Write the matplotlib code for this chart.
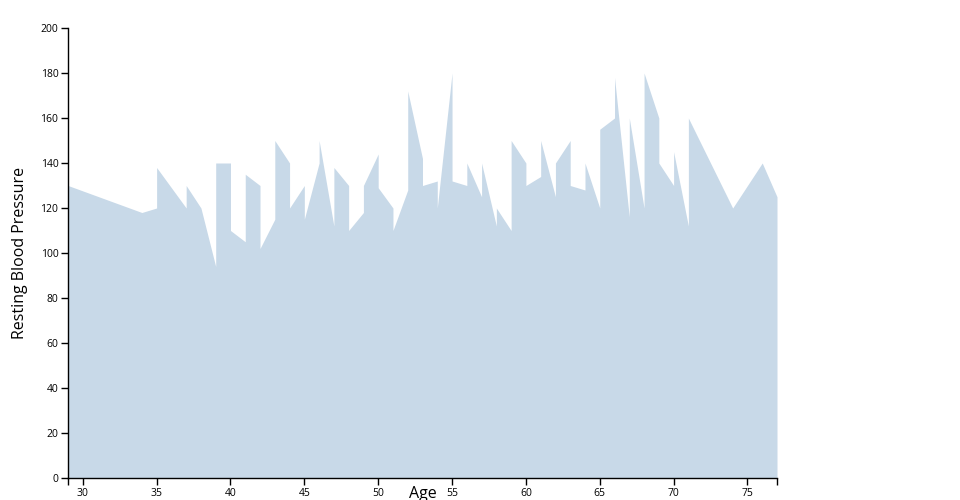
import matplotlib
matplotlib.use("Agg")
import matplotlib.pyplot as plt

plt.rcParams['font.family'] = ['Open Sans', 'DejaVu Sans']

# age (repeated where two readings sit at the same age) and resting blood pressure
ages = [29, 34, 35, 35, 37, 37, 38, 39, 39, 40, 40, 41, 41, 42, 42, 43, 43,
        44, 44, 45, 45, 46, 46, 47, 47, 48, 48, 49, 49, 50, 50, 51, 51,
        52, 52, 53, 53, 54, 54, 55, 55, 56, 56, 57, 57, 58, 58, 59, 59,
        60, 60, 61, 61, 62, 62, 63, 63, 64, 64, 65, 65, 66, 66, 67, 67,
        68, 68, 69, 69, 70, 70, 71, 71, 74, 76, 77]
bp = [130, 118, 120, 138, 120, 130, 120, 94, 140, 140, 110, 105, 135, 130, 102, 115, 150,
      140, 120, 130, 115, 140, 150, 112, 138, 130, 110, 118, 130, 144, 129, 120, 110,
      128, 172, 142, 130, 132, 120, 180, 132, 130, 140, 125, 140, 112, 120, 110, 150,
      140, 130, 134, 150, 125, 140, 150, 130, 128, 140, 120, 155, 160, 178, 116, 160,
      120, 180, 160, 140, 130, 145, 112, 160, 120, 140, 125]

y_ticks = list(range(0, 201, 20))
x_ticks = list(range(30, 76, 5))

fig = plt.figure(figsize=(9.6, 5), dpi=100)
ax = fig.add_axes([68 / 960, 22 / 500, 709 / 960, 450 / 500])

ax.fill_between(ages, bp, 0, color='#c8d9e8', linewidth=0)

ax.set_xlim(min(ages), max(ages))
ax.set_ylim(0, 200)
ax.set_xticks(x_ticks)
ax.set_yticks(y_ticks)
ax.set_xticks([min(ages), max(ages)], minor=True)

for s in ['top', 'right']:
    ax.spines[s].set_visible(False)
for s in ['left', 'bottom']:
    ax.spines[s].set_linewidth(1)
    ax.spines[s].set_color('black')

ax.tick_params(axis='both', which='both', direction='out', length=5, width=1,
               labelsize=7.5, pad=2, colors='black')

ax.set_ylabel('Resting Blood Pressure', fontsize=11.5, labelpad=9)
fig.text((68 + 777) / 2 / 960, 0.028, 'Age', ha='center', va='top', fontsize=11.5)

fig.savefig('out.png', dpi=100)
